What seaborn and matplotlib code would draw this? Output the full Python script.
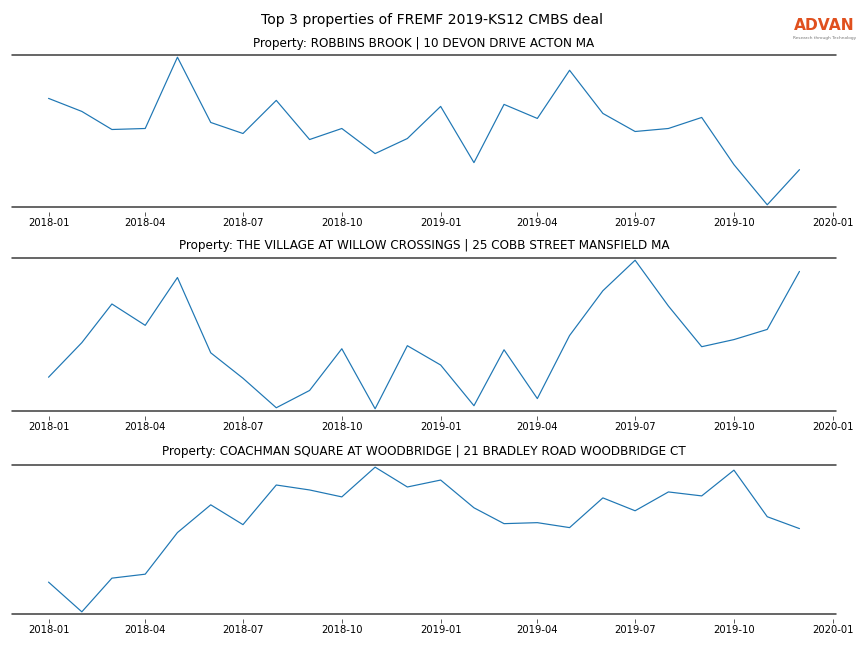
import matplotlib
matplotlib.use("Agg")
import matplotlib.pyplot as plt
import seaborn as sns
import pandas as pd
import numpy as np

sns.set_style("white")
plt.rcParams['font.family'] = ['DejaVu Sans']
plt.rcParams['text.color'] = 'black'
plt.rcParams['xtick.color'] = 'black'

months = pd.date_range("2018-01-01", "2019-12-01", freq="MS")

titles = [
    "Property: ROBBINS BROOK | 10 DEVON DRIVE ACTON MA",
    "Property: THE VILLAGE AT WILLOW CROSSINGS | 25 COBB STREET MANSFIELD MA",
    "Property: COACHMAN SQUARE AT WOODBRIDGE | 21 BRADLEY ROAD WOODBRIDGE CT",
]

visits_1 = [111, 98, 80, 81, 152, 87, 76, 109, 70, 81, 56, 71,
            103, 47, 105, 91, 139, 96, 78, 81, 92, 45, 5, 40]
visits_2 = [33, 67, 105, 84, 131, 57, 32, 3, 20, 61, 2, 64,
            45, 5, 60, 12, 74, 118, 148, 103, 63, 70, 80, 137]
visits_3 = [31, 1, 35, 39, 81, 109, 89, 129, 124, 117, 147, 127,
            134, 106, 90, 91, 86, 116, 103, 122, 118, 144, 97, 85]

series = [visits_1, visits_2, visits_3]

fig = plt.figure(figsize=(12, 9), dpi=72)
axes_pos = [(12, 55, 207), (12, 258, 411), (12, 465, 614)]
W, H = 864, 648
axes = []
for (x0, ytop, ybot) in axes_pos:
    ax = fig.add_axes([x0 / W, 1 - ybot / H, (836 - x0) / W, (ybot - ytop) / H])
    axes.append(ax)

xmin = pd.Timestamp("2017-11-28")
xmax = pd.Timestamp("2020-01-04")
for i, (ax, vals, title) in enumerate(zip(axes, series, titles)):
    df = pd.DataFrame({"month": months, "value": vals})
    sns.lineplot(data=df, x="month", y="value", ax=ax, color="#1f77b4", linewidth=1.2)
    lo, hi = min(vals), max(vals)
    pad = (hi - lo) * 0.015
    ax.set_ylim(lo - pad, hi + pad)
    ax.set_xlim(xmin, xmax)
    ax.set_yticks([])
    ax.set_xlabel("")
    ax.set_ylabel("")
    for s in ["left", "right", "top"]:
        ax.spines[s].set_visible(False)
    ax.spines["bottom"].set_visible(False)
    ax.spines["bottom"].set_position(("outward", 5))
    for yy in (0, 1):
        ax.plot([0, 1], [yy, yy], transform=ax.transAxes, color="#444444",
                linewidth=1.6, clip_on=False)
    ticks = pd.date_range("2018-01-01", "2020-01-01", freq="3MS")
    ax.set_xticks(ticks)
    ax.set_xticklabels([t.strftime("%Y-%m") for t in ticks], fontsize=10)
    ax.tick_params(axis="x", bottom=True, length=3.5, width=0.8, color="#333333", pad=2.5)
    ax.set_title(title, fontsize=12, pad=8.5 if i < 2 else 10.5, color="black")

fig.suptitle("Top 3 properties of FREMF 2019-KS12 CMBS deal", fontsize=14, y=1 - 20 / H,
             va="center", color="black")
fig.text(824.5 / W, 1 - 26 / H, "ADVAN", color="#e0501e", fontsize=15.5, fontweight="bold",
         ha="center", va="center")
fig.text(824.5 / W, 1 - 38.5 / H, "Research through Technology", color="#777777", fontsize=4.2,
         ha="center", va="center")

fig.savefig("out.png", dpi=72)
